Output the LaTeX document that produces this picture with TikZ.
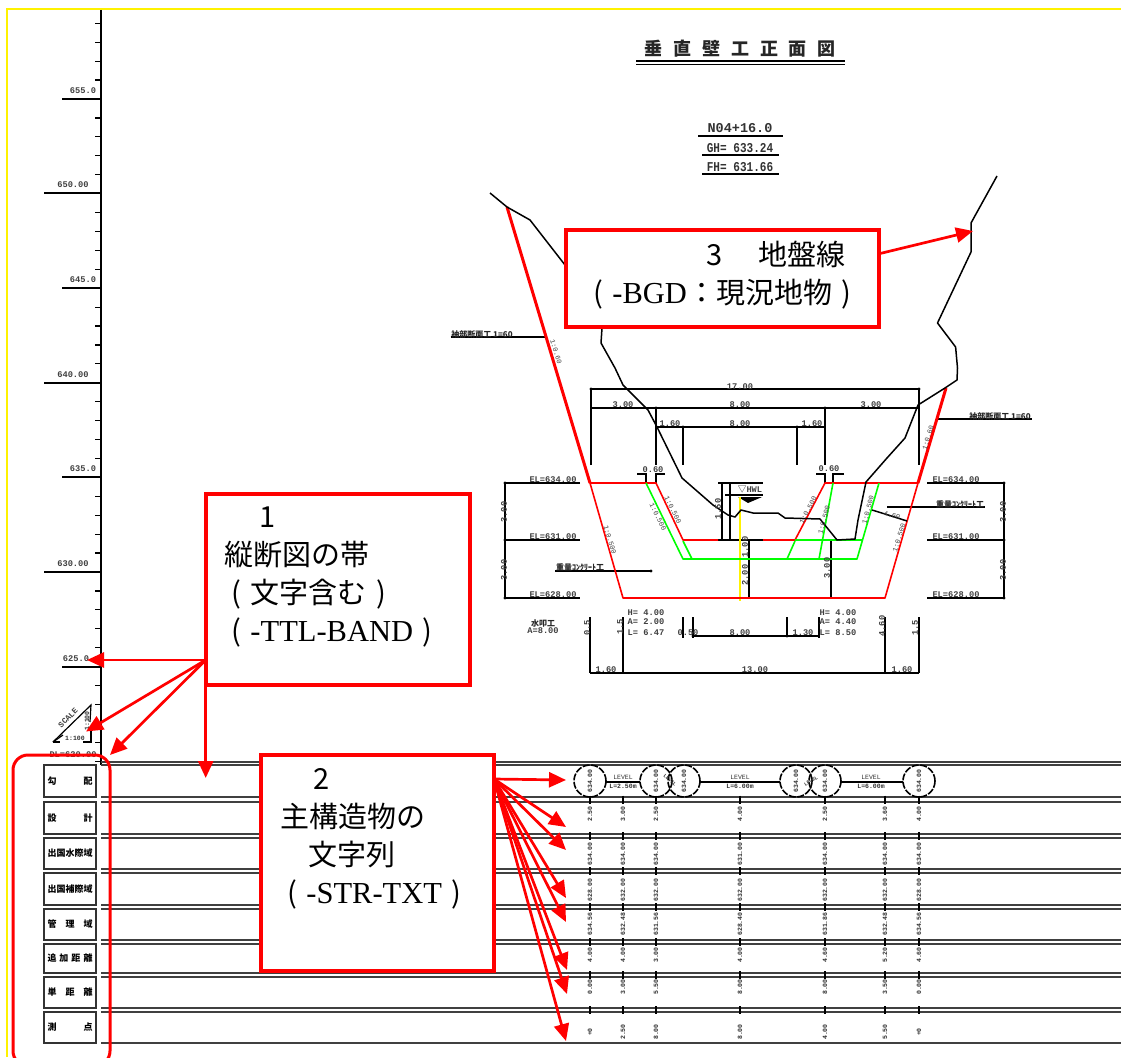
\documentclass[tikz,border=0pt]{standalone}
\usepackage{fontspec}
\setmainfont{Liberation Serif}
\newfontfamily\cjk{Noto Sans CJK JP}
\newfontfamily\cadfont{Liberation Mono}
\usetikzlibrary{arrows.meta}
\newcommand\cadgap[1]{\hspace{#1pt}}
\newcommand\lpar{{\cjk (}}
\newcommand\rpar{{\cjk )}}
\newcommand\bigroman[1]{{\fontsize{30.5}{38}\selectfont #1}}
\tikzset{
  cadline/.style={draw=black,line width=1.2pt},
  bandline/.style={draw=black!75,line width=1.2pt},
  groundline/.style={draw=black,line width=1.5pt,line join=round},
  redthin/.style={draw=red,line width=1.6pt,line join=round},
  redthick/.style={draw=red,line width=3pt},
  greenline/.style={draw=green,line width=1.6pt,line join=round},
  ringline/.style={draw=black,line width=1.6pt,dash pattern=on 7pt off 1.5pt},
  cadtext/.style={font=\cadfont\bfseries\fontsize{8.7}{9}\selectfont,text=black!75,inner sep=0pt},
  slopetext/.style={font=\cadfont\fontsize{7}{8}\selectfont,text=black!75,inner sep=0pt},
  tinytext/.style={font=\cadfont\bfseries\fontsize{6.5}{7}\selectfont,text=black!80,inner sep=0pt},
  stationtext/.style={font=\cadfont\bfseries\fontsize{13.5}{14}\selectfont,text=black!80,inner sep=0pt},
  kanjitext/.style={font=\cjk\bfseries\fontsize{8}{9}\selectfont,text=black!85,inner sep=0pt},
  rowbox/.style={draw=black!80,line width=1.2pt,minimum width=52pt,inner sep=0pt,font=\cjk\bfseries\fontsize{9}{10}\selectfont},
  calloutbox/.style={draw=red,line width=3.2pt,fill=white,anchor=north west,align=left,outer sep=0pt,inner xsep=0pt,inner ysep=0pt,font=\fontsize{29}{38}\selectfont},
  callout/.style={draw=red,line width=2.7pt,-{Triangle[length=17pt,width=15pt]}},
}
\begin{document}
\begin{tikzpicture}[x=1pt,y=-1pt]
\useasboundingbox (0,0) rectangle (1121,1057);
\draw[draw=yellow,line width=2pt] (6.5,1057)--(6.5,9)--(1121,9);

\draw[cadline] (101,10)--(101,765);
\foreach \k in {-4,...,35}
  \draw[cadline] (95,99+18.92*\k)--(101,99+18.92*\k);
\foreach \n/\y/\xs/\lx/\lab in {a/99/62/83/655.0,b/193/44/73/650.00,c/288/62/83/645.0,d/383/44/73/640.00,e/477/62/83/635.0,f/572/44/73/630.00,g/667/62/76/625.0}{
  \draw[cadline] (\xs,\y)--(101,\y);
  \node[cadtext] (axis\n) at (\lx,\y-8) {\lab};
}
\node[cadtext] (axisdl) at (73,755) {DL=620.00};
\draw[cadline] (53,742)--(91,705)--(90,722);
\draw[cadline] (53,742)--(63,735);
\draw[cadline] (91,727)--(91,742)--(83,742);
\draw[cadline] (53,742)--(60,742);
\node[cadtext,rotate=45,font=\cadfont\bfseries\fontsize{8}{9}\selectfont] (scaletext) at (68,718) {SCALE};
\node[tinytext] (scalebot) at (75,738) {1:100};
\node[tinytext,rotate=90] (scaleright) at (87,721) {1:100};

\foreach \y in {762,765,797,802,834,838,869,873,905,909,940,944,973,977,1008,1012,1043}
  \draw[bandline] (101,\y)--(1121,\y);
\foreach \n/\y/\h/\lab in {a/781/32/勾\cadgap{27}配,b/818/32/設\cadgap{27}計,c/853.5/31/出国水際域,d/889/32/出国補際域,e/924.5/31/管\cadgap{9}理\cadgap{9}域,f/958.5/29/追\cadgap{3}加\cadgap{3}距\cadgap{3}離,g/992.5/31/単\cadgap{9}距\cadgap{9}離,h/1027.5/31/測\cadgap{27}点}
  \node[rowbox,minimum height=\h pt] (row\n) at (70,\y) {\lab};

\foreach \cx in {590,623,656,740,825,885,919}
  \foreach \y in {799.5,836,871,907,942,975,1010}
    \draw[cadline] (\cx,\y-4)--(\cx,\y+4);
\foreach \n/\cx/\ra/\rb/\rc/\rd/\re/\rf/\rg in {a/590/2.50/634.00/628.00/634.56/4.00/0.00/+0,b/623/3.00/634.00/632.00/632.48/4.00/3.00/2.50,c/656/2.50/634.00/632.00/631.56/3.00/5.50/8.00,d/740/4.00/631.00/632.00/628.40/4.00/8.00/8.00,e/825/2.50/634.00/632.00/631.86/4.60/8.00/4.00,f/885/3.60/634.00/632.00/632.48/5.20/3.50/5.50,g/919/4.00/634.00/628.00/634.56/4.60/0.00/+0}{
  \node[tinytext,rotate=90] (rb\n) at (\cx,814) {\ra};
  \node[tinytext,rotate=90] (rc\n) at (\cx,854) {\rb};
  \node[tinytext,rotate=90] (rd\n) at (\cx,890) {\rc};
  \node[tinytext,rotate=90] (re\n) at (\cx,924) {\rd};
  \node[tinytext,rotate=90] (rf\n) at (\cx,955) {\re};
  \node[tinytext,rotate=90] (rg\n) at (\cx,987) {\rf};
  \node[tinytext,rotate=90] (rh\n) at (\cx,1032) {\rg};
}
\foreach \n/\cx in {a/590,b/656,c/684,d/796,e/825,f/919}{
  \draw[ringline] (\cx,781) circle [radius=16pt];
  \node[tinytext,rotate=90] (ring\n) at (\cx,781) {634.00};
}
\draw[cadline] (606,782)--(640,782);
\draw[cadline] (700,782)--(780,782);
\draw[cadline] (841,782)--(903,782);
\node[tinytext,font=\cadfont\fontsize{6.5}{7}\selectfont] (levela) at (623,777) {LEVEL};
\node[tinytext] (lengtha) at (623,786) {L=2.50m};
\node[tinytext,font=\cadfont\fontsize{6.5}{7}\selectfont] (levelb) at (740,777) {LEVEL};
\node[tinytext] (lengthb) at (740,786) {L=6.00m};
\node[tinytext,font=\cadfont\fontsize{6.5}{7}\selectfont] (levelc) at (871,777) {LEVEL};
\node[tinytext] (lengthc) at (871,786) {L=6.00m};
\node[tinytext,rotate=-40,font=\cadfont\bfseries\fontsize{5}{6}\selectfont] (diaga) at (670,780) {LEVEL};
\node[tinytext,rotate=30,font=\cadfont\bfseries\fontsize{5}{6}\selectfont] (diagb) at (811,781) {LEVEL};

\node[font=\cjk\bfseries\fontsize{18}{20}\selectfont,text=black!85,inner sep=0pt] (drawtitle) at (740,48.5) {垂\cadgap{11}直\cadgap{11}壁\cadgap{11}工\cadgap{11}正\cadgap{11}面\cadgap{11}図};
\draw[cadline] (636,61)--(844.5,61);
\draw[cadline] (636,64.5)--(844.5,64.5);
\node[stationtext] (stationno) at (740,128) {N04+16.0};
\node[stationtext,xscale=0.82,transform shape] (stationgh) at (740,148) {GH= 633.24};
\node[stationtext,xscale=0.82,transform shape] (stationfh) at (740,167) {FH= 631.66};
\draw[cadline] (698,136)--(782.5,136);
\draw[cadline] (702,155)--(779,155);
\draw[cadline] (702,174)--(779,174);

\draw[cadline] (591,465)--(591,389)--(919,389)--(919,465);
\draw[cadline] (591,408)--(919,408);
\draw[cadline] (656,408)--(656,465);
\draw[cadline] (825,408)--(825,465);
\draw[cadline] (657,427)--(825,427);
\draw[cadline] (683,427)--(683,465);
\draw[cadline] (797,427)--(797,465);
\draw[cadline] (637,474)--(646,474)--(646,483);
\draw[cadline] (665,474)--(656,474)--(656,483);
\draw[cadline] (816,474)--(825,474)--(825,483);
\draw[cadline] (844,474)--(833,474)--(833,483);
\draw[cadline] (580,483)--(505,483)--(505,598)--(580,598);
\draw[cadline] (505,540)--(580,540);
\draw[cadline] (927,483)--(1004,483)--(1004,598)--(927,598);
\draw[cadline] (927,540)--(1004,540);
\draw[cadline] (555,571)--(651,571);
\draw[cadline] (887,507)--(985,507);
\draw[cadline] (450.5,337)--(547,337);
\draw[cadline] (937,419)--(1032,419);
\draw[cadline] (718,483)--(763,483);
\draw[cadline] (722,483)--(722,540);
\draw[cadline] (730,483)--(730,540);
\draw[cadline] (718,540)--(763,540);
\draw[cadline] (725,495)--(763,495);
\fill (738,497)--(762,497)--(748,503)--cycle;
\draw[cadline] (749,540)--(749,598);
\draw[cadline] (831,540)--(831,598);
\draw[cadline] (590,617)--(590,673);
\draw[cadline] (623,617)--(623,673);
\draw[cadline] (885,617)--(885,673);
\draw[cadline] (919,617)--(919,673);
\draw[cadline] (590,673)--(919,673);
\draw[cadline] (683,617)--(683,638);
\draw[cadline] (693,617)--(693,638);
\draw[cadline] (787,617)--(787,636);
\draw[cadline] (819,617)--(819,638);
\draw[cadline] (693,636)--(819,636);
\foreach \px/\py in {505/483,505/540,505/598,1004/483,1004/540,1004/598,651/571,693/636,787/636,825/408,656/408,683/427,797/427,919/389,591/389}
  \fill (\px,\py) circle [radius=1.6pt];

\draw[draw=yellow,line width=2pt] (740,497)--(740,601);
\draw[redthick] (507,207)--(590,483);
\draw[redthick] (918,483)--(946,388);
\draw[redthin] (590,483)--(623,598)--(885,598)--(918,483);
\draw[redthin] (590,483)--(656,483)--(683,540)--(718,540);
\draw[redthin] (763,540)--(795,540)--(825,483)--(918,483);
\draw[greenline] (646,483)--(683,559)--(857,559)--(879,483);
\draw[greenline] (683,541)--(692,559);
\draw[greenline] (795,540)--(862,540);
\draw[greenline] (787,559)--(795,541);
\draw[greenline] (833,483)--(819,559);
\draw[groundline] (490,193)--(507,207)--(530,220)--(565,265)--(602,328)--(601,343)--(615,368)--(623,385)--(648,410)--(657,427)--(682,478)--(713,505)--(728,515)--(735,517)--(741,510)--(753,513)--(778,513)--(785,518)--(820,519)--(837,540)--(855,539)--(858,520)--(866,482)--(887,458)--(905,438)--(918,405)--(945,388)--(957,380)--(957.5,368)--(955.6,347)--(937.5,323)--(971,252)--(971,223)--(997,176);
\draw[groundline] (872,510)--(885,514)--(907,521);

\foreach \n/\tx/\ty/\ang/\lab in {a/740/387/0/17.00,b/623/405/0/3.00,c/740/405/0/8.00,d/871/405/0/3.00,e/670/424/0/1.60,f/740/424/0/8.00,g/812/424/0/1.60,h/653/470/0/0.60,i/829/469/0/0.60,j/553/480/0/EL=634.00,k/553/537/0/EL=631.00,l/553/595/0/EL=628.00,m/956/480/0/EL=634.00,n/956/537/0/EL=631.00,o/956/595/0/EL=628.00,p/504/512/90/3.00,q/504/570/90/3.00,r/1003/512/90/3.00,s/1003/570/90/3.00,t/606/670/0/1.60,u/755/670/0/13.00,v/902/670/0/1.60,w/740/633/0/8.00,x/803/633/0/1.30,y/688/633/0/0.50,z/745/547/90/1.00,aa/745/575/90/2.00,ab/827/568/90/3.00,ac/587/628/90/0.5,ad/620/627/90/1.5,ae/882/626/90/4.60,af/915/628/90/1.5,aq/718/509/90/1.50}
  \node[cadtext,rotate=\ang] (dim\n) at (\tx,\ty) {\lab};
\foreach \n/\tx/\ty/\ang/\lab in {a/556/352/-73/1:0.60,b/928/438/73/1:0.60,c/610/540/-73/1:0.500,d/658/517/-64/1:0.500,e/673/510/-64/1:0.500,f/808/510/62/1:0.500,g/824/520/75/1:0.500,h/868/510/75/1:0.500,i/899/538/73/1:0.500,j/892/515/-15/4.60}
  \node[slopetext,rotate=\ang] (slope\n) at (\tx,\ty) {\lab};
\foreach \n/\tx/\ty/\lab in {a/646/613/H= 4.00,b/646/622/A= 2.00,c/646/633/L= 6.47,d/838/613/H= 4.00,e/838/622/A= 4.40,f/838/633/L= 8.50}
  \node[cadtext] (spec\n) at (\tx,\ty) {\lab};
\node[cadtext] (waterlabel) at (750,490) {{\cjk ▽}HWL};
\node[kanjitext] (apronname) at (543,623) {水叩工};
\node[cadtext] (apronarea) at (543,631) {A=8.00};
\node[kanjitext] (blockleft) at (580,567) {重量ｺﾝｸﾘｰﾄ工};
\node[kanjitext] (blockright) at (960,504) {重量ｺﾝｸﾘｰﾄ工};
\node[kanjitext] (wingleft) at (482,334) {袖部断面工 1=60};
\node[kanjitext] (wingright) at (1000,416) {袖部断面工 1=60};

\draw[redthick,rounded corners=15pt] (13,755) rectangle (110,1066);

\node[calloutbox,minimum width=264pt,minimum height=191pt,text width=228pt] (bandbox) at (206,494) {\cadgap{35}{\cjk 1}\\{\cjk 縦断図の帯}\\\cadgap{7}\lpar\ {\cjk 文字含む}\ \rpar\\\cadgap{7}\lpar\ \bigroman{-TTL-BAND}\ \rpar\\[-8pt]\mbox{}};
\node[calloutbox,minimum width=233pt,minimum height=216pt,text width=195pt] (strbox) at (261,755) {\cadgap{33}{\cjk 2}\\{\cjk 主構造物の}\\\cadgap{28}{\cjk 文字列}\\\cadgap{7}\lpar\ \bigroman{-STR-TXT}\ \rpar\\[17pt]\mbox{}};
\node[calloutbox,minimum width=313pt,minimum height=97pt,text width=259pt] (groundbox) at (566,230) {\cadgap{113}{\cjk 3}\cadgap{36}{\cjk 地盤線}\\\lpar\ \bigroman{-BGD}{\cjk ：現況地物}\ \rpar\\[-26pt]\mbox{}};

\coordinate (bandout) at (205.7,660);
\coordinate (tipaxis) at (87,660);
\coordinate (tipscale) at (86,731.5);
\coordinate (tipdatum) at (110,755);
\coordinate (tipband) at (205.7,778);
\draw[callout] (bandout)--(tipaxis);
\draw[callout] (bandout)--(tipscale);
\draw[callout] (bandout)--(tipdatum);
\draw[callout] (bandout)--(tipband);
\coordinate (strout) at (494,779);
\foreach \n/\tx/\ty in {a/566/780,b/566/827,c/566/850,d/566/898,e/566/922,f/567/970,g/567/994,h/566/1041}{
  \coordinate (tipstr\n) at (\tx,\ty);
  \draw[callout] (strout)--(tipstr\n);
}
\coordinate (groundout) at (878,254);
\coordinate (tipground) at (973,231);
\draw[callout] (groundout)--(tipground);
\end{tikzpicture}
\end{document}
